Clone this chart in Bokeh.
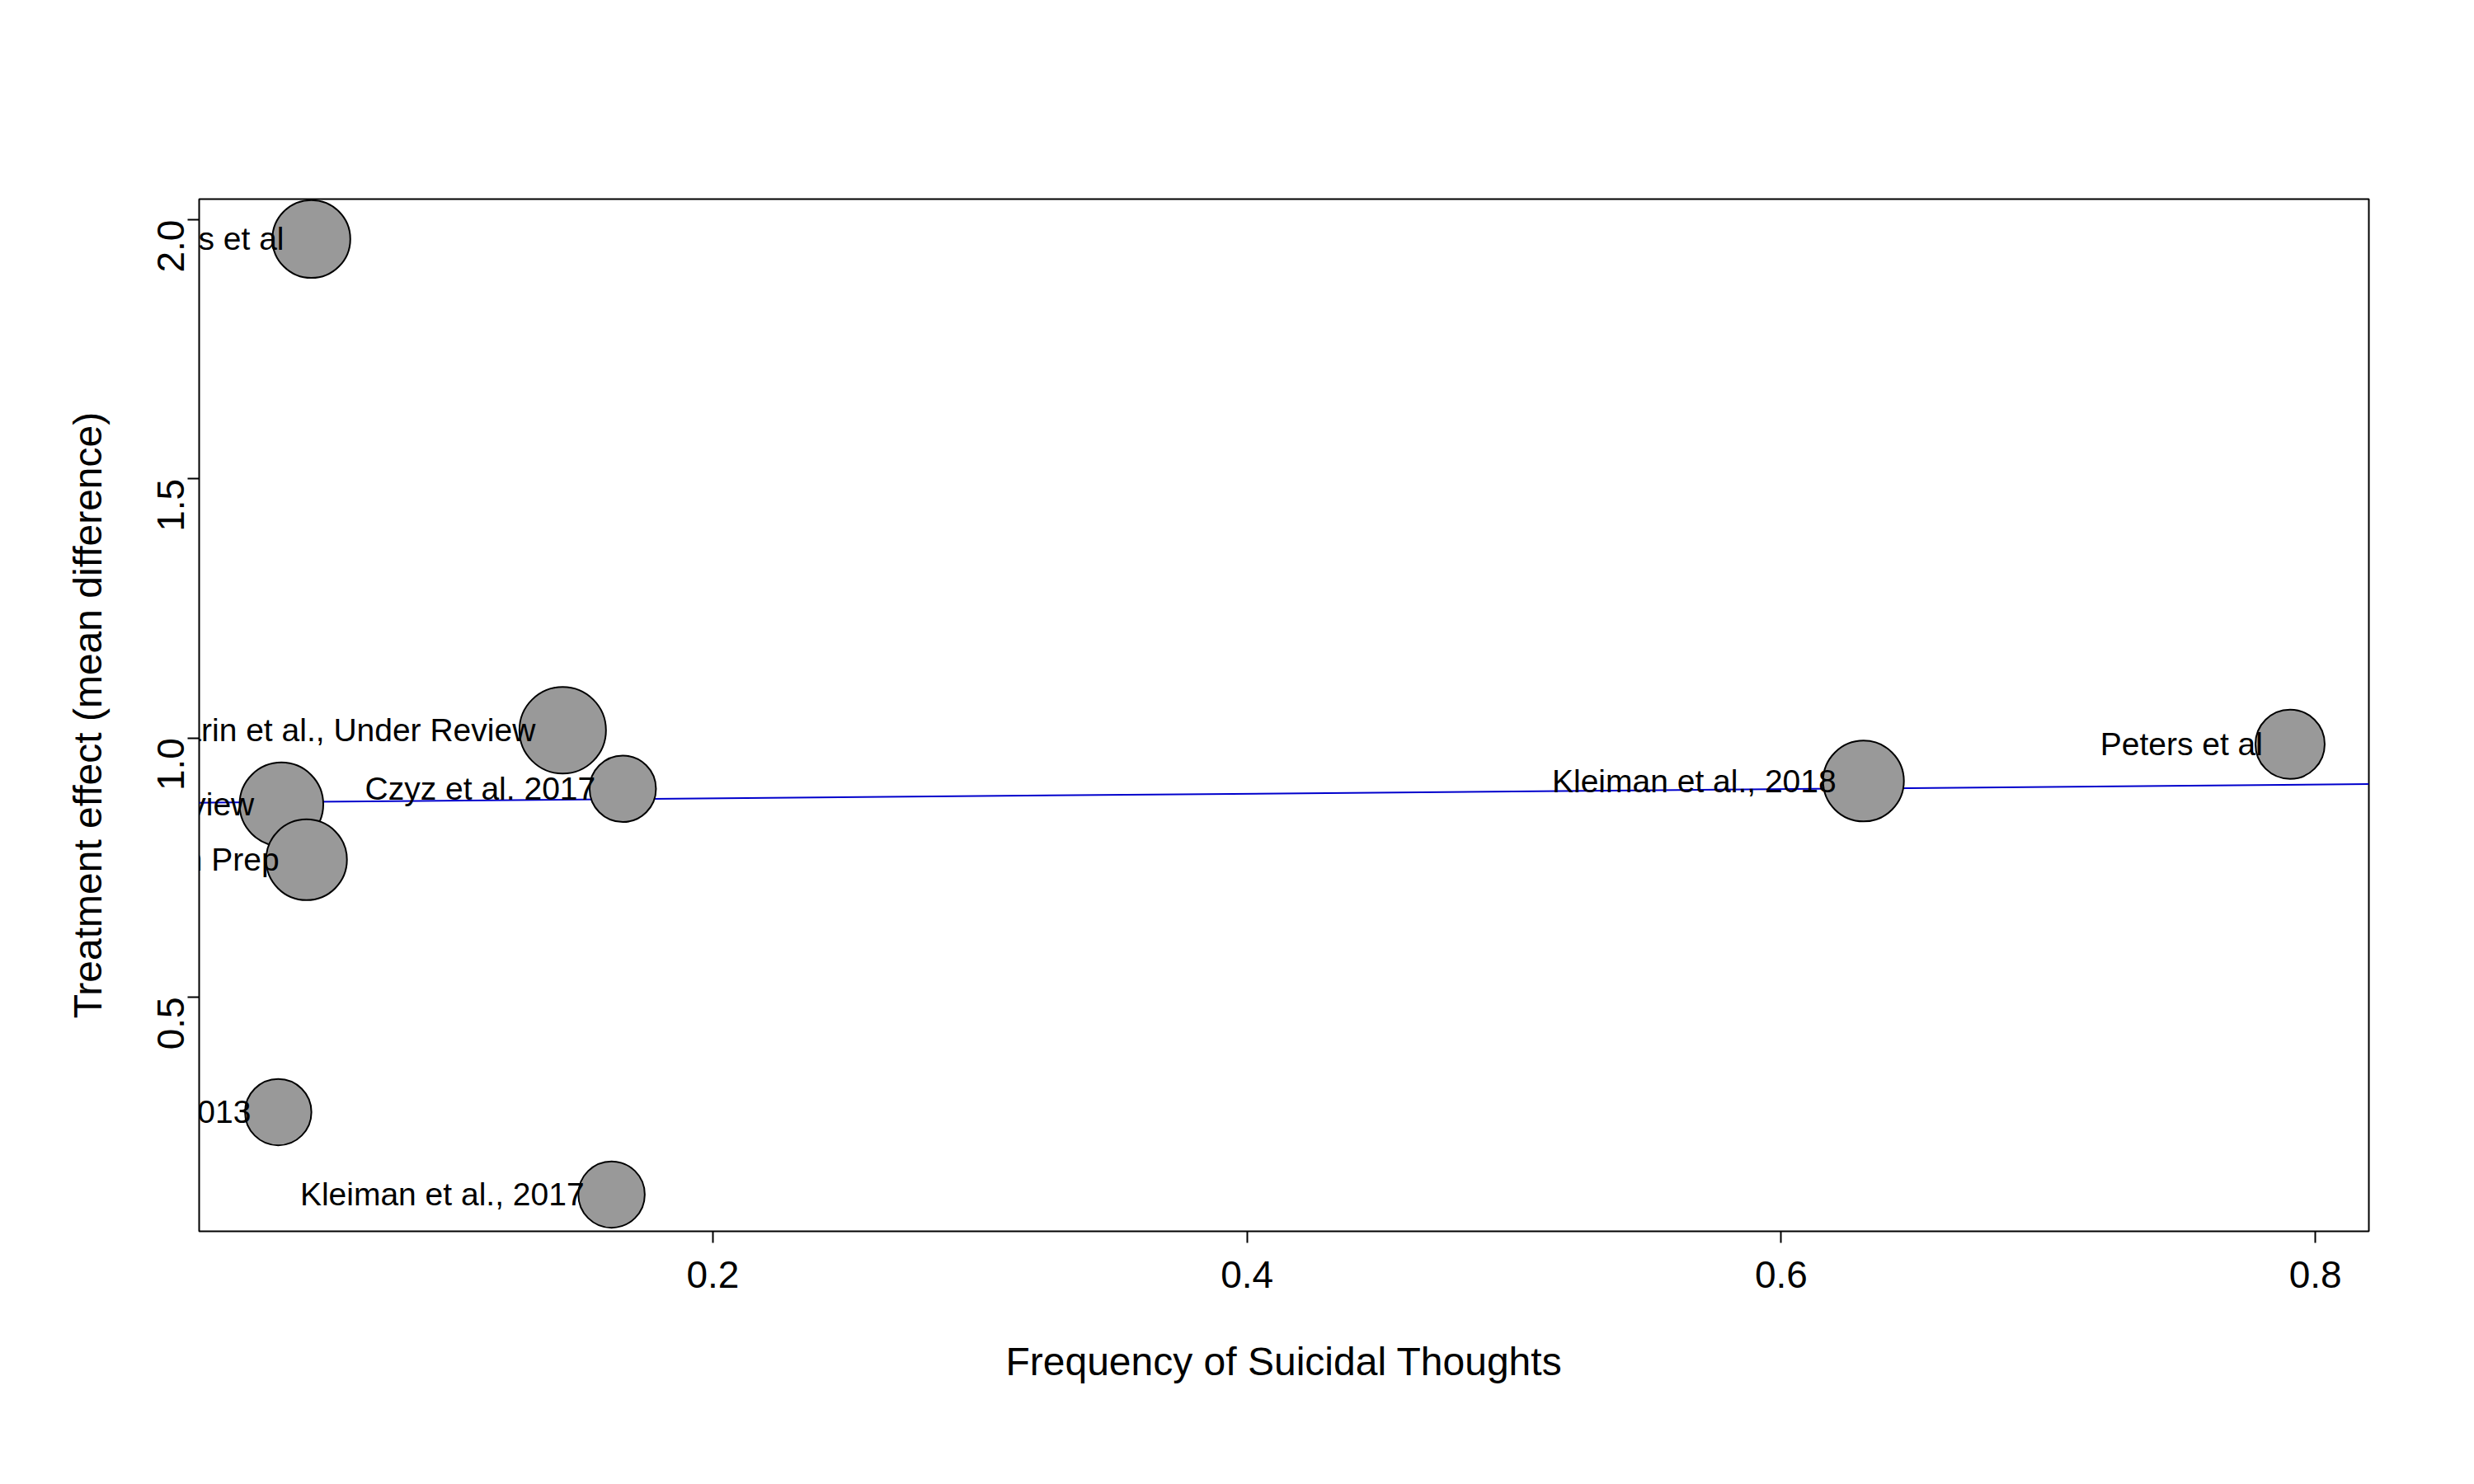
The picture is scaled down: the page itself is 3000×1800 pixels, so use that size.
import math
from bokeh.plotting import figure
from bokeh.models import ColumnDataSource, FixedTicker, Range1d, NumeralTickFormatter
from bokeh.core.properties import value
from bokeh.embed import file_html
from bokeh.resources import INLINE

studies = ["Hughes et al", "Marin et al., Under Review", "Czyz et al. 2017", "Under Review",
           "In Prep", "2013", "Kleiman et al., 2017", "Kleiman et al., 2018", "Peters et al"]
freq = [0.0497, 0.1438, 0.1663, 0.0385, 0.0479, 0.0373, 0.1621, 0.6308, 0.7905]
effect = [1.963, 1.015, 0.902, 0.872, 0.765, 0.278, 0.119, 0.917, 0.988]
weights = [27, 30, 23, 29, 28, 23, 23, 28, 24]
line_x = [0.0077, 0.82]
line_y = [0.875, 0.911]
x_ticks = [0.2, 0.4, 0.6, 0.8]
y_ticks = [0.5, 1.0, 1.5, 2.0]

F = "Liberation Sans"
p = figure(width=2984, height=1784, output_backend="svg", toolbar_location=None,
           x_range=Range1d(0.0077, 0.820), y_range=Range1d(0.048, 2.04),
           min_border_left=241, min_border_right=112, min_border_top=241, min_border_bottom=291,
           x_axis_label="Frequency of Suicidal Thoughts",
           y_axis_label="Treatment effect (mean difference)")
p.grid.visible = False
p.outline_line_color = "black"
p.outline_line_width = 2

src = ColumnDataSource(dict(x=freq, y=effect, s=[w * 2 * 1.75 for w in weights], label=studies))
p.line(line_x, line_y, line_color="#0000cc", line_width=2)
p.scatter("x", "y", size="s", source=src, fill_color="#999999", line_color="black", line_width=2)
p.text("x", "y", text="label", source=src, text_align="right", text_baseline="middle",
       x_offset=-33, text_font=value(F), text_font_size="39px", text_color="black")

for ax in (p.xaxis, p.yaxis):
    ax.axis_label_text_font = F
    ax.axis_label_text_font_style = "normal"
    ax.axis_label_text_font_size = "48px"
    ax.axis_label_text_color = "black"
    ax.major_label_text_font = F
    ax.major_label_text_font_size = "46px"
    ax.major_label_text_color = "black"
    ax.minor_tick_line_color = None
    ax.major_tick_out = 14
    ax.major_tick_in = 0
    ax.axis_line_color = None
    ax.major_tick_line_width = 2
p.xaxis.ticker = FixedTicker(ticks=x_ticks)
p.yaxis.ticker = FixedTicker(ticks=y_ticks)
p.yaxis.formatter = NumeralTickFormatter(format="0.0")
p.xaxis.major_label_standoff = 22
p.xaxis.axis_label_standoff = 60
p.yaxis.major_label_orientation = math.pi / 2
p.yaxis.major_label_standoff = 20
p.yaxis.axis_label_standoff = 40

open("out.html", "w").write(file_html(p, INLINE))
